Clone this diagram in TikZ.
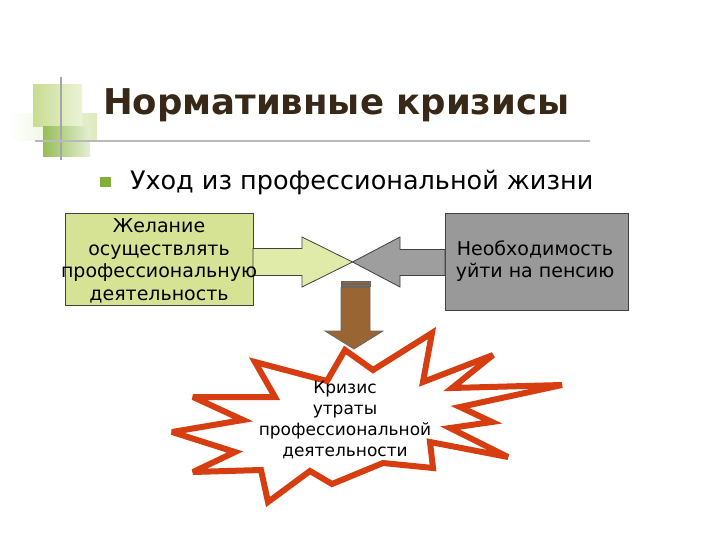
\documentclass[tikz,border=0pt]{standalone}
\usepackage{fontspec}
\setmainfont{DejaVu Sans}
\usetikzlibrary{calc,positioning}

\definecolor{titlebrown}{RGB}{56,40,24}
\definecolor{boxgreen}{RGB}{214,227,148}
\definecolor{arrowgreen}{RGB}{224,235,170}
\definecolor{boxgray}{RGB}{153,153,153}
\definecolor{arrowgray}{RGB}{158,158,158}
\definecolor{crisisbrown}{RGB}{153,102,51}
\definecolor{burstred}{RGB}{214,62,18}
\definecolor{sqlight}{RGB}{200,220,145}
\definecolor{sqdark}{RGB}{150,190,85}
\definecolor{bulletgreen}{RGB}{130,175,55}

\begin{document}
\begin{tikzpicture}[
    x=1pt, y=-1pt,
    every node/.style={inner sep=0pt, outer sep=0pt},
    panel/.style={draw=black!75, line width=0.8pt},
    blocktext/.style={align=center, font=\fontsize{19}{22.5}\selectfont},
    blockarrow/.style={draw=black!75, line width=0.8pt, line join=miter},
    burst/.style={draw=burstred, fill=white, line width=6pt, line join=miter, miter limit=4}
]
    \useasboundingbox (0,0) rectangle (720,540);

    % Title decoration
    \shade[left color=white, right color=sqlight!60] (10,114) rectangle (97,141);
    \shade[left color=sqlight, right color=sqlight!35] (33,85) rectangle (82,127);
    \shade[left color=sqdark, right color=sqdark!25] (43,127) rectangle (90,157);
    \draw[gray!70, line width=1.5pt] (61,77) -- (61,160);
    \draw[gray!55, line width=1.5pt] (35,141) -- (590,141);

    % Title and bullet
    \node[anchor=base west, text=titlebrown, font=\fontsize{35.5}{40}\selectfont\bfseries] (title) at (103,115) {Нормативные кризисы};
    \fill[bulletgreen] (100,177) rectangle (111,187);
    \node[anchor=base west, font=\fontsize{25.5}{30}\selectfont] (topic) at (130,190) {Уход из профессиональной жизни};

    % Boxes
    \node[panel, fill=boxgreen, minimum width=188, minimum height=92] (wantbox) at (159,259) {};
    \node[panel, fill=boxgray, minimum width=183, minimum height=97] (needbox) at (536.5,261.5) {};

    % Block arrows meeting in the middle
    \coordinate (meet) at (352.5,262);
    \draw[blockarrow, fill=arrowgreen] (wantbox.east |- 0,248.5) -- (302,248.5) -- (302,237)
        -- (meet) -- (302,287) -- (302,275.5) -- (wantbox.east |- 0,275.5) -- cycle;
    \draw[blockarrow, fill=arrowgray] (needbox.west |- 0,249.5) -- (400,249.5) -- (400,237)
        -- (meet) -- (400,287) -- (400,275.5) -- (needbox.west |- 0,275.5) -- cycle;

    % Box texts
    \node[blocktext] (want) at (159,261) {Желание\\осуществлять\\профессиональную\\деятельность};
    \node[blocktext] (need) at (535,261) {Необходимость\\уйти на пенсию};

    % Striped arrow down to the burst
    \filldraw[fill=crisisbrown, draw=black!60, line width=0.5pt] (341,281) rectangle (370,282.8);
    \filldraw[fill=crisisbrown, draw=black!60, line width=0.5pt] (341,284.2) rectangle (370,286);
    \draw[blockarrow, fill=crisisbrown, draw=black!60] (341,287.4) -- (370,287.4) -- (370,331) -- (383,331)
        -- (354,349) -- (325,331) -- (341,331) -- cycle;

    % Burst
    \draw[burst] (345,350) -- (373,370) -- (432,333) -- (423,382) -- (493,355) -- (452,388)
        -- (562,385) -- (460,407) -- (492,422) -- (450,428) -- (508,457) -- (430,442)
        -- (433,468) -- (383,463) -- (332,484) -- (310,471) -- (268,502) -- (261,470)
        -- (193,472) -- (235,452) -- (172,432) -- (243,420) -- (193,397) -- (275,397)
        -- (255,362) -- (327,381) -- cycle;
    \node[align=center, font=\fontsize{17}{21}\selectfont] (crisis) at (345,420) {Кризис\\утраты\\профессиональной\\деятельности};
\end{tikzpicture}
\end{document}
